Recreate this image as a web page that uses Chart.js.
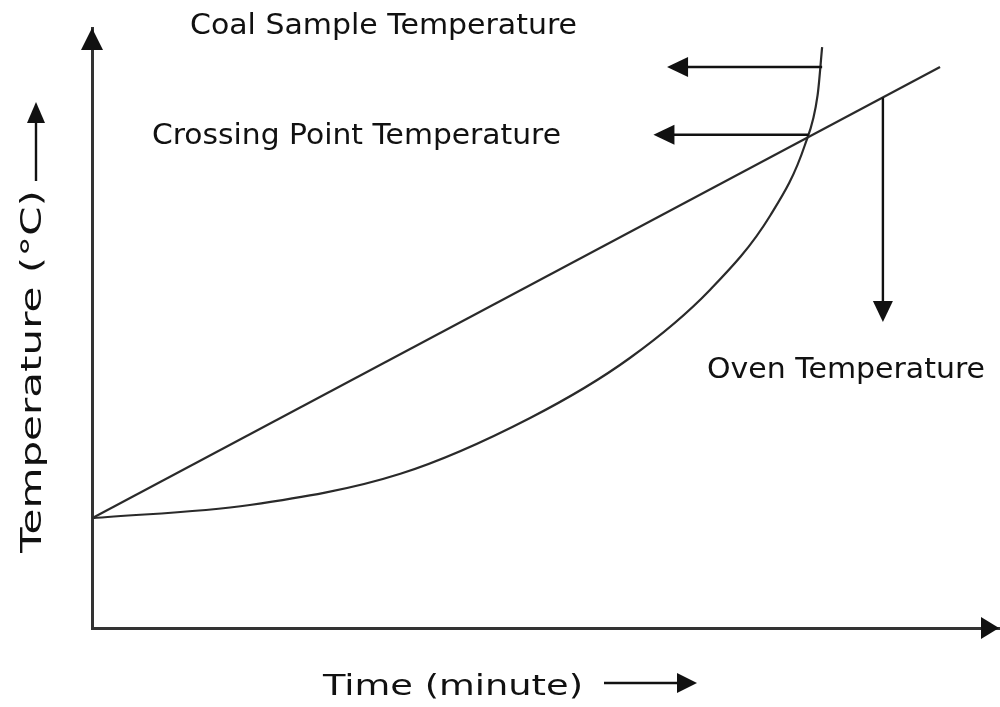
<!DOCTYPE html>
<html>
<head>
<meta charset="utf-8">
<script src="https://cdn.jsdelivr.net/npm/chart.js@4"></script>
<style>
html,body{margin:0;padding:0;background:#fff;}
#wrap{width:1000px;height:707px;position:relative;}
</style>
</head>
<body>
<div id="wrap"><canvas id="c"></canvas></div>
<script>
// ---- data (arbitrary units: time 0..100, temperature 0..100) ----
const ovenTime = [0, 93.5];
const ovenTemp = [18.3, 93.5];
const coalTime = [0, 17.4, 34.0, 48.3, 59.3, 68.1, 74.8, 78.6, 80.0, 80.5];
const coalTemp = [18.3, 20.5, 25.7, 35.0, 45.0, 56.3, 68.8, 80.5, 88.8, 96.8];
// annotation arrows: [fromTime, fromTemp, toTime, toTemp]
const coalArrow = [80.5, 93.5, 63.4, 93.5];
const crossArrow = [79.0, 82.2, 61.9, 82.2];
const ovenArrow = [87.2, 88.4, 87.2, 51.0];
const labels = {
  coal: "Coal Sample Temperature",
  cross: "Crossing Point Temperature",
  oven: "Oven Temperature",
  xTitle: "Time (minute)",
  yTitle: "Temperature (\u00B0C)"
};

const INK = '#111';
const LINE = '#2a2a2a';
const FONT = '"DejaVu Sans", Verdana, sans-serif';

function head(ctx, tx, ty, angle, len, half) {
  ctx.save();
  ctx.translate(tx, ty);
  ctx.rotate(angle);
  ctx.beginPath();
  ctx.moveTo(0, 0);
  ctx.lineTo(-len, -half);
  ctx.lineTo(-len, half);
  ctx.closePath();
  ctx.fillStyle = INK;
  ctx.fill();
  ctx.restore();
}
function arrow(ctx, x1, y1, x2, y2, len, half, w) {
  const a = Math.atan2(y2 - y1, x2 - x1);
  ctx.save();
  ctx.strokeStyle = INK;
  ctx.lineWidth = w;
  ctx.beginPath();
  ctx.moveTo(x1, y1);
  ctx.lineTo(x2 - Math.cos(a) * len * 0.6, y2 - Math.sin(a) * len * 0.6);
  ctx.stroke();
  ctx.restore();
  head(ctx, x2, y2, a, len, half);
}
// text fitted between left and right
function fitText(ctx, txt, left, right, baseline, px) {
  ctx.save();
  ctx.font = px + 'px ' + FONT;
  ctx.fillStyle = INK;
  ctx.textBaseline = 'alphabetic';
  ctx.textAlign = 'left';
  const w = ctx.measureText(txt).width;
  const sx = (right - left) / w;
  ctx.translate(left, baseline);
  ctx.scale(sx, 1);
  ctx.fillText(txt, 0, 0);
  ctx.restore();
}

const decor = {
  id: 'decor',
  afterDraw(chart) {
    const ctx = chart.ctx;
    const xs = chart.scales.x, ys = chart.scales.y;
    const ca = chart.chartArea;
    const P = (t, v) => [xs.getPixelForValue(t), ys.getPixelForValue(v)];
    // axis arrowheads
    head(ctx, ca.left, ca.top, -Math.PI / 2, 22, 11);
    head(ctx, ca.right, ca.bottom, 0, 18, 11);
    // annotation arrows
    for (const a of [coalArrow, crossArrow, ovenArrow]) {
      const [x1, y1] = P(a[0], a[1]);
      const [x2, y2] = P(a[2], a[3]);
      arrow(ctx, x1, y1, x2, y2, 21, 10, 2.4);
    }
    // texts
    fitText(ctx, labels.coal, 190, 577, 34, 29);
    fitText(ctx, labels.cross, 152, 561, 144, 29);
    fitText(ctx, labels.oven, 707, 985, 378, 29);
    fitText(ctx, labels.xTitle, 323, 583, 695, 28);
    // x title arrow
    arrow(ctx, 604, 683, 697, 683, 20, 10, 2.4);
    // y title rotated
    ctx.save();
    ctx.translate(41, 553);
    ctx.rotate(-Math.PI / 2);
    fitText(ctx, labels.yTitle, 0, 363, 0, 29);
    ctx.restore();
    arrow(ctx, 36, 181, 36, 102, 21, 9, 2.4);
  }
};

new Chart(document.getElementById('c'), {
  type: 'scatter',
  data: {
    datasets: [
      {
        label: 'Oven Temperature',
        data: ovenTime.map((t, i) => ({x: t, y: ovenTemp[i]})),
        showLine: true, borderColor: LINE, borderWidth: 2.2, pointRadius: 0, fill: false
      },
      {
        label: 'Coal Sample Temperature',
        data: coalTime.map((t, i) => ({x: t, y: coalTemp[i]})),
        showLine: true, borderColor: LINE, borderWidth: 2.2, pointRadius: 0, fill: false,
        cubicInterpolationMode: 'monotone'
      }
    ]
  },
  options: {
    responsive: true,
    maintainAspectRatio: false,
    animation: false,
    layout: {padding: {left: 92, right: 1, top: 28, bottom: 79}},
    plugins: {legend: {display: false}, tooltip: {enabled: false}},
    scales: {
      x: {
        type: 'linear', min: 0, max: 100,
        ticks: {display: false},
        grid: {display: false, drawTicks: false},
        border: {display: true, color: '#333', width: 3}
      },
      y: {
        type: 'linear', min: 0, max: 100,
        ticks: {display: false},
        grid: {display: false, drawTicks: false},
        border: {display: true, color: '#333', width: 3}
      }
    }
  },
  plugins: [decor]
});
</script>
</body>
</html>
